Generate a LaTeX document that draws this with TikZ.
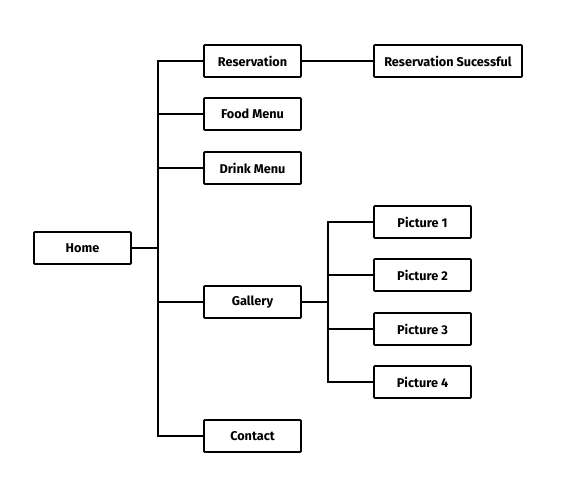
\documentclass[tikz,border=0pt]{standalone}
\usepackage{fontspec}
\setmainfont{Fira Sans}
\begin{document}
\begin{tikzpicture}[x=1pt,y=-1pt,
  box/.style={draw=black,line width=1.8pt,minimum width=97pt,minimum height=32pt,inner sep=0pt,font=\fontsize{12.7}{14}\selectfont\bfseries,rounded corners=0.8pt},
  wide/.style={box,minimum width=148pt},
  conn/.style={line width=1.6pt,draw=black}]
\useasboundingbox[fill=white] (0,0) rectangle (586,499);
\node[box] (home) at (82.5,248) {Home};
\node[box] (res) at (252.5,61) {Reservation};
\node[box] (food) at (252.5,114) {Food Menu};
\node[box] (drink) at (252.5,168) {Drink Menu};
\node[box] (gal) at (252.5,302) {Gallery};
\node[box] (con) at (252.5,436) {Contact};
\node[wide] (ress) at (448,61) {Reservation Sucessful};
\node[box] (p1) at (422.5,222) {Picture 1};
\node[box] (p2) at (422.5,275) {Picture 2};
\node[box] (p3) at (422.5,329) {Picture 3};
\node[box] (p4) at (422.5,382) {Picture 4};
\coordinate (t) at (158,248);
\coordinate (g) at (328,302);
\draw[conn] (home.east) -- (t);
\draw[conn] (res.west) -| (t) |- (con.west);
\draw[conn] (food.west) -- (food.west -| t);
\draw[conn] (drink.west) -- (drink.west -| t);
\draw[conn] (gal.west) -- (gal.west -| t);
\draw[conn] (res.east) -- (ress.west);
\draw[conn] (gal.east) -- (g);
\draw[conn] (p1.west) -| (g) |- (p4.west);
\draw[conn] (p2.west) -- (p2.west -| g);
\draw[conn] (p3.west) -- (p3.west -| g);
\end{tikzpicture}
\end{document}
